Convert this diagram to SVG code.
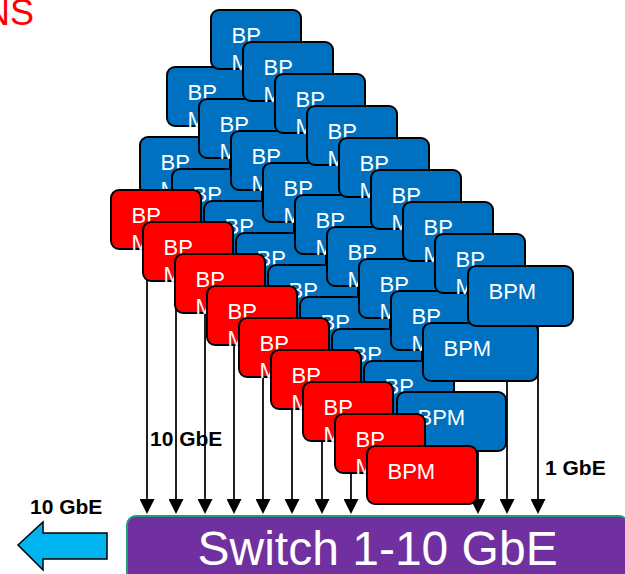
<svg xmlns="http://www.w3.org/2000/svg" width="625" height="574" viewBox="0 0 625 574">
  <style>
    .bg { fill: #ffffff; }
    .box rect { stroke: #000000; stroke-width: 2; }
    .blue rect { fill: #0070C0; }
    .red rect { fill: #FF0000; }
    .box text { font-family: "Liberation Sans", Arial, sans-serif; font-size: 22px; fill: #ffffff; }
    .link { stroke: #000000; stroke-width: 1.75; fill: none; marker-end: url(#head); }
    .rate { font-family: "Liberation Sans", Arial, sans-serif; font-size: 21px; font-weight: bold; fill: #000000; }
    .title { font-family: "Liberation Sans", Arial, sans-serif; font-size: 36px; fill: #FF0000; }
    .switch rect { fill: #7030A0; stroke: #1E9E7E; stroke-width: 2; }
    .switch text { font-family: "Liberation Sans", Arial, sans-serif; font-size: 48px; fill: #ffffff; }
    .uplink { fill: #00B4F0; stroke: #000000; stroke-width: 1.5; stroke-linejoin: miter; }
  </style>
  <defs>
    <marker id="head" markerUnits="userSpaceOnUse" markerWidth="15" markerHeight="15" refX="0" refY="7.5" orient="auto">
      <path d="M0,0 L15,7.5 L0,15 Z" fill="#000000"/>
    </marker>
  </defs>

  <rect class="bg" x="0" y="0" width="625" height="574"/>

  <!-- heading fragment, running off the left edge -->
  <text class="title" x="34" y="25" text-anchor="end">NS</text>

  <!-- links from the modules down into the switch (drawn behind the modules) -->
  <g id="connectors">
    <line class="link" x1="147" y1="260" x2="147" y2="499"/>
    <line class="link" x1="176" y1="290" x2="176" y2="499"/>
    <line class="link" x1="205" y1="290" x2="205" y2="499"/>
    <line class="link" x1="234" y1="320" x2="234" y2="499"/>
    <line class="link" x1="263" y1="350" x2="263" y2="499"/>
    <line class="link" x1="292" y1="380" x2="292" y2="499"/>
    <line class="link" x1="322" y1="410" x2="322" y2="499"/>
    <line class="link" x1="351" y1="440" x2="351" y2="499"/>
    <line class="link" x1="478" y1="420" x2="478" y2="499"/>
    <line class="link" x1="507" y1="350" x2="507" y2="499"/>
    <line class="link" x1="538" y1="300" x2="538" y2="499"/>
  </g>

  <!-- third blue column (back layer) -->
  <g id="bpm-c0" class="box blue"><rect x="140" y="137" width="90" height="59" rx="8"/><text x="160.5" y="170">BP<tspan x="160.5" dy="26.5">M</tspan></text></g>
  <g id="bpm-c1" class="box blue"><rect x="172" y="169" width="90" height="59" rx="8"/><text x="192.5" y="202">BP<tspan x="192.5" dy="26.5">M</tspan></text></g>
  <g id="bpm-c2" class="box blue"><rect x="204" y="201" width="90" height="59" rx="8"/><text x="224.5" y="234">BP<tspan x="224.5" dy="26.5">M</tspan></text></g>
  <g id="bpm-c3" class="box blue"><rect x="236" y="233" width="90" height="59" rx="8"/><text x="256.5" y="266">BP<tspan x="256.5" dy="26.5">M</tspan></text></g>
  <g id="bpm-c4" class="box blue"><rect x="268" y="265" width="90" height="59" rx="8"/><text x="288.5" y="298">BP<tspan x="288.5" dy="26.5">M</tspan></text></g>
  <g id="bpm-c5" class="box blue"><rect x="300" y="297" width="90" height="59" rx="8"/><text x="320.5" y="330">BP<tspan x="320.5" dy="26.5">M</tspan></text></g>
  <g id="bpm-c6" class="box blue"><rect x="332" y="329" width="90" height="59" rx="8"/><text x="352.5" y="362">BP<tspan x="352.5" dy="26.5">M</tspan></text></g>
  <g id="bpm-c7" class="box blue"><rect x="364" y="361" width="90" height="59" rx="8"/><text x="384.5" y="394">BP<tspan x="384.5" dy="26.5">M</tspan></text></g>
  <g id="bpm-c8" class="box blue"><rect x="397" y="392" width="109" height="59" rx="8"/><text x="417.5" y="425">BPM</text></g>

  <!-- second blue column -->
  <g id="bpm-b0" class="box blue"><rect x="167" y="67" width="90" height="59" rx="8"/><text x="187.5" y="100">BP<tspan x="187.5" dy="26.5">M</tspan></text></g>
  <g id="bpm-b1" class="box blue"><rect x="199" y="99" width="90" height="59" rx="8"/><text x="219.5" y="132">BP<tspan x="219.5" dy="26.5">M</tspan></text></g>
  <g id="bpm-b2" class="box blue"><rect x="231" y="131" width="90" height="59" rx="8"/><text x="251.5" y="164">BP<tspan x="251.5" dy="26.5">M</tspan></text></g>
  <g id="bpm-b3" class="box blue"><rect x="263" y="163" width="90" height="59" rx="8"/><text x="283.5" y="196">BP<tspan x="283.5" dy="26.5">M</tspan></text></g>
  <g id="bpm-b4" class="box blue"><rect x="295" y="195" width="90" height="59" rx="8"/><text x="315.5" y="228">BP<tspan x="315.5" dy="26.5">M</tspan></text></g>
  <g id="bpm-b5" class="box blue"><rect x="327" y="227" width="90" height="59" rx="8"/><text x="347.5" y="260">BP<tspan x="347.5" dy="26.5">M</tspan></text></g>
  <g id="bpm-b6" class="box blue"><rect x="359" y="259" width="90" height="59" rx="8"/><text x="379.5" y="292">BP<tspan x="379.5" dy="26.5">M</tspan></text></g>
  <g id="bpm-b7" class="box blue"><rect x="391" y="291" width="90" height="59" rx="8"/><text x="411.5" y="324">BP<tspan x="411.5" dy="26.5">M</tspan></text></g>
  <g id="bpm-b8" class="box blue"><rect x="423" y="323" width="115" height="58" rx="8"/><text x="443.5" y="356">BPM</text></g>

  <!-- first blue column -->
  <g id="bpm-a0" class="box blue"><rect x="211" y="10" width="90" height="59" rx="8"/><text x="231.5" y="43">BP<tspan x="231.5" dy="26.5">M</tspan></text></g>
  <g id="bpm-a1" class="box blue"><rect x="243" y="42" width="90" height="59" rx="8"/><text x="263.5" y="75">BP<tspan x="263.5" dy="26.5">M</tspan></text></g>
  <g id="bpm-a2" class="box blue"><rect x="275" y="74" width="90" height="59" rx="8"/><text x="295.5" y="107">BP<tspan x="295.5" dy="26.5">M</tspan></text></g>
  <g id="bpm-a3" class="box blue"><rect x="307" y="106" width="90" height="59" rx="8"/><text x="327.5" y="139">BP<tspan x="327.5" dy="26.5">M</tspan></text></g>
  <g id="bpm-a4" class="box blue"><rect x="339" y="138" width="90" height="59" rx="8"/><text x="359.5" y="171">BP<tspan x="359.5" dy="26.5">M</tspan></text></g>
  <g id="bpm-a5" class="box blue"><rect x="371" y="170" width="90" height="59" rx="8"/><text x="391.5" y="203">BP<tspan x="391.5" dy="26.5">M</tspan></text></g>
  <g id="bpm-a6" class="box blue"><rect x="403" y="202" width="90" height="59" rx="8"/><text x="423.5" y="235">BP<tspan x="423.5" dy="26.5">M</tspan></text></g>
  <g id="bpm-a7" class="box blue"><rect x="435" y="234" width="90" height="59" rx="8"/><text x="455.5" y="267">BP<tspan x="455.5" dy="26.5">M</tspan></text></g>
  <g id="bpm-a8" class="box blue"><rect x="468" y="266" width="105" height="60" rx="8"/><text x="488.5" y="299">BPM</text></g>

  <!-- red column (front layer) -->
  <g id="bpm-d0" class="box red"><rect x="111" y="190" width="90" height="59" rx="8"/><text x="131.5" y="223">BP<tspan x="131.5" dy="26.5">M</tspan></text></g>
  <g id="bpm-d1" class="box red"><rect x="143" y="222" width="90" height="59" rx="8"/><text x="163.5" y="255">BP<tspan x="163.5" dy="26.5">M</tspan></text></g>
  <g id="bpm-d2" class="box red"><rect x="175" y="254" width="90" height="59" rx="8"/><text x="195.5" y="287">BP<tspan x="195.5" dy="26.5">M</tspan></text></g>
  <g id="bpm-d3" class="box red"><rect x="207" y="286" width="90" height="59" rx="8"/><text x="227.5" y="319">BP<tspan x="227.5" dy="26.5">M</tspan></text></g>
  <g id="bpm-d4" class="box red"><rect x="239" y="318" width="90" height="59" rx="8"/><text x="259.5" y="351">BP<tspan x="259.5" dy="26.5">M</tspan></text></g>
  <g id="bpm-d5" class="box red"><rect x="271" y="350" width="90" height="59" rx="8"/><text x="291.5" y="383">BP<tspan x="291.5" dy="26.5">M</tspan></text></g>
  <g id="bpm-d6" class="box red"><rect x="303" y="382" width="90" height="59" rx="8"/><text x="323.5" y="415">BP<tspan x="323.5" dy="26.5">M</tspan></text></g>
  <g id="bpm-d7" class="box red"><rect x="335" y="414" width="90" height="59" rx="8"/><text x="355.5" y="447">BP<tspan x="355.5" dy="26.5">M</tspan></text></g>
  <g id="bpm-d8" class="box red"><rect x="367" y="446" width="110" height="58" rx="8"/><text x="387.5" y="479">BPM</text></g>

  <!-- link rate labels -->
  <text class="rate" x="150" y="446">10 GbE</text>
  <text class="rate" x="545" y="475">1 GbE</text>
  <text class="rate" x="30" y="514">10 GbE</text>

  <!-- switch -->
  <g id="switch" class="switch">
    <rect x="127" y="516" width="501" height="80" rx="9"/>
    <text x="197.5" y="565">Switch 1-10 GbE</text>
  </g>

  <!-- uplink arrow -->
  <g id="uplink">
    <polygon class="uplink" points="18,545 43,522 43,533 107,533 107,559 43,559 43,570"/>
  </g>
</svg>
